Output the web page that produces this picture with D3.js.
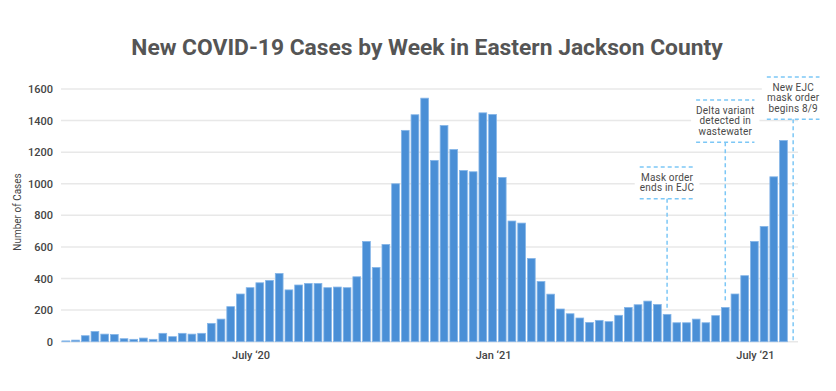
<!DOCTYPE html>
<html>
<head>
<meta charset="utf-8">
<script src="https://cdn.jsdelivr.net/npm/d3@7"></script>
<style>
  body { margin: 0; background: #fff; }
  svg { display: block; font-family: Roboto, "Open Sans", sans-serif; }
</style>
</head>
<body>
<svg id="chart" width="836" height="391"></svg>
<script>
// weekly new cases, first week of March 2020 through first week of Aug 2021
const cases = [
  5, 10, 38, 65, 48, 46, 19, 15, 23, 15,
  53, 32, 53, 48, 53, 116, 143, 222, 302, 342,
  373, 388, 432, 328, 359, 369, 369, 342, 346, 342,
  411, 635, 470, 616, 1000, 1338, 1437, 1542, 1148, 1369,
  1217, 1084, 1076, 1449, 1439, 1040, 764, 751, 527, 381,
  301, 207, 177, 150, 122, 135, 127, 167, 217, 234,
  257, 236, 173, 120, 120, 143, 120, 165, 217, 302,
  418, 635, 730, 1044, 1274
];
const yTicks = [0, 200, 400, 600, 800, 1000, 1200, 1400, 1600];
const xLabels = [
  { week: 19, label: "July \u201820" },
  { week: 44, label: "Jan \u201821" },
  { week: 71, label: "July \u201821" }
];
// week index each note points at (75 = week after last bar)
const notes = [
  { week: 62, lines: ["Mask order", "ends in EJC"], top: 167 },
  { week: 68, lines: ["Delta variant", "detected in", "wastewater"], top: 100 },
  { week: 75, lines: ["New EJC", "mask order", "begins 8/9"], top: 77 }
];

const svg = d3.select("#chart");
const margin = { left: 61, right: 38, top: 89, bottom: 49 };
const width = 836, height = 391;

const x = d3.scaleBand()
  .domain(d3.range(cases.length + 1))
  .range([margin.left, width - margin.right])
  .paddingInner(0.2)
  .paddingOuter(0.1);

const y = d3.scaleLinear()
  .domain([0, 1600])
  .range([height - margin.bottom - 0.3, margin.top]);

svg.append("text")
  .attr("x", 427)
  .attr("y", 55)
  .attr("text-anchor", "middle")
  .attr("font-size", 22.8)
  .attr("font-weight", "bold")
  .attr("fill", "#555")
  .text("New COVID-19 Cases by Week in Eastern Jackson County");

const grid = svg.append("g").attr("class", "grid-layer");
grid.selectAll("line")
  .data(yTicks)
  .join("line")
  .attr("x1", margin.left)
  .attr("x2", width - margin.right)
  .attr("y1", (d) => y(d))
  .attr("y2", (d) => y(d))
  .attr("stroke", "#e8e8e8")
  .attr("stroke-width", 1.5);

svg.append("g")
  .selectAll("text")
  .data(yTicks)
  .join("text")
  .attr("x", 53)
  .attr("y", (d) => y(d) + 4)
  .attr("text-anchor", "end")
  .attr("font-size", 11)
  .attr("font-weight", 500)
  .attr("fill", "#444")
  .text((d) => d);

svg.append("text")
  .attr("transform", "translate(21,212) rotate(-90)")
  .attr("text-anchor", "middle")
  .attr("font-size", 10)
  .attr("fill", "#444")
  .text("Number of Cases");

svg.append("g")
  .selectAll("rect")
  .data(cases)
  .join("rect")
  .attr("x", (d, i) => x(i))
  .attr("y", (d) => y(d))
  .attr("width", x.bandwidth())
  .attr("height", (d) => y(0) - y(d))
  .attr("fill", "#4a8fd6")
  .attr("stroke", "#86b6e8")
  .attr("stroke-width", 0.8);

svg.append("g")
  .selectAll("text")
  .data(xLabels)
  .join("text")
  .attr("x", (d) => x(d.week) + x.bandwidth() / 2 + 1)
  .attr("y", 359)
  .attr("text-anchor", "middle")
  .attr("font-size", 11)
  .attr("font-weight", 500)
  .attr("fill", "#444")
  .text((d) => d.label);

// annotations
const dash = "#7cc7f6";
const noteG = svg.append("g").attr("class", "notes");
notes.forEach((n) => {
  const cx = x(n.week) + x.bandwidth() / 2;
  const g = noteG.append("g");
  const lineH = 10.4;
  const bottom = n.top + n.lines.length * lineH + 11;
  const bg = g.append("rect").attr("fill", "#fff");
  const txt = g.append("text")
    .attr("text-anchor", "middle")
    .attr("font-size", 10)
    .attr("letter-spacing", 0.2)
    .attr("fill", "#4a4a4a");
  n.lines.forEach((l, j) => {
    txt.append("tspan")
      .attr("x", cx)
      .attr("y", n.top + 14 + j * lineH)
      .text(l);
  });
  const bb = txt.node().getBBox();
  const w = bb.width;
  bg.attr("x", cx - w / 2 - 5).attr("y", n.top)
    .attr("width", w + 10).attr("height", bottom - n.top);
  [n.top, bottom].forEach((yy) => {
    g.append("line")
      .attr("x1", cx - w / 2).attr("x2", cx + w / 2)
      .attr("y1", yy).attr("y2", yy)
      .attr("stroke", dash)
      .attr("stroke-width", 1.5)
      .attr("stroke-dasharray", "4,3");
  });
  const v = cases[n.week];
  g.append("line")
    .attr("x1", cx).attr("x2", cx)
    .attr("y1", bottom)
    .attr("y2", v === undefined ? y(0) : y(v) - 6)
    .attr("stroke", dash)
    .attr("stroke-width", 1.5)
    .attr("stroke-dasharray", "4,3");
});
</script>
</body>
</html>
